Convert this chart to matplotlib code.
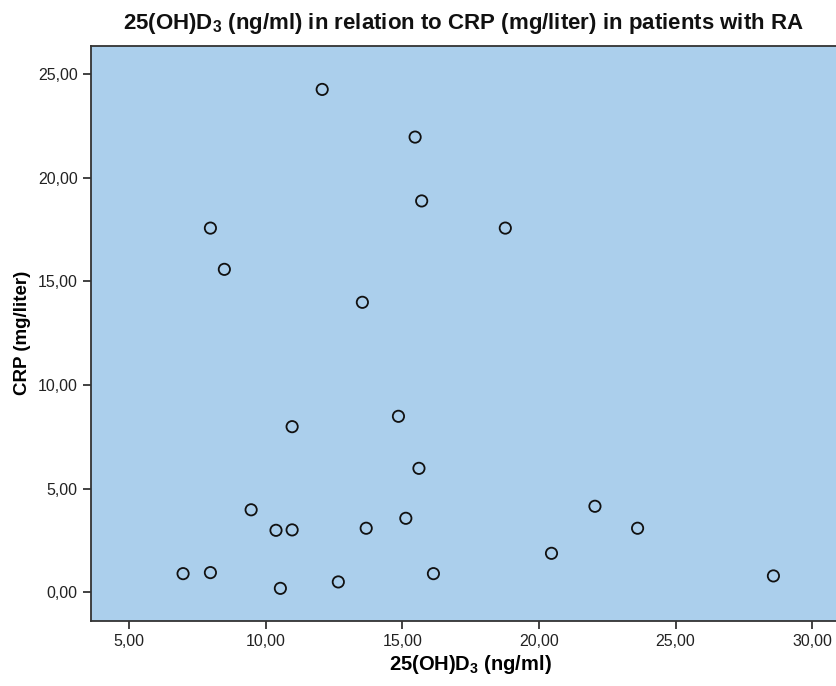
import matplotlib
matplotlib.use("Agg")
import matplotlib.pyplot as plt
from matplotlib.ticker import FuncFormatter

# 25(OH)D3 (ng/ml) vs CRP (mg/liter)
vit_d = [12.07, 15.47, 15.71, 7.98, 18.77, 8.49, 13.54, 10.97, 14.86, 15.61,
         9.47, 10.38, 10.97, 13.68, 15.13, 6.98, 7.98, 10.54, 12.66, 16.14,
         22.05, 23.61, 20.46, 28.58]
crp = [24.26, 21.96, 18.88, 17.57, 17.57, 15.58, 13.99, 7.99, 8.49, 5.98,
       3.98, 2.99, 3.01, 3.09, 3.57, 0.90, 0.95, 0.19, 0.50, 0.90,
       4.15, 3.09, 1.88, 0.79]
x_ticks = [5, 10, 15, 20, 25, 30]
y_ticks = [0, 5, 10, 15, 20, 25]

plt.rcParams['font.family'] = ['Liberation Sans', 'DejaVu Sans']
plt.rcParams['mathtext.fontset'] = 'custom'
plt.rcParams['mathtext.rm'] = 'Liberation Sans'
plt.rcParams['mathtext.bf'] = 'Liberation Sans:bold'

fig = plt.figure(figsize=(8.36, 6.86), dpi=100)
ax = fig.add_axes([0.1085, 0.0952, 0.8915, 0.8382])
ax.set_facecolor('#abcfec')

ax.scatter(vit_d, crp, s=66, facecolors='none', edgecolors='#111111', linewidths=1.3, zorder=3)

ax.set_xlim(3.60, 30.87)
ax.set_ylim(-1.37, 26.37)
ax.set_xticks(x_ticks)
ax.set_yticks(y_ticks)
comma = FuncFormatter(lambda v, p: f"{v:.2f}".replace('.', ','))
ax.xaxis.set_major_formatter(comma)
ax.yaxis.set_major_formatter(comma)
ax.tick_params(direction='out', length=6, width=1.2, labelsize=11.5, colors='#222222')

for side in ['top', 'left', 'bottom']:
    ax.spines[side].set_color('#333333')
    ax.spines[side].set_linewidth(1.3)
ax.spines['right'].set_visible(False)

ax.set_xlabel(r'25(OH)D$_\mathbf{3}$ (ng/ml)', fontsize=14.5, fontweight='bold', labelpad=3, x=0.509)
ax.set_ylabel('CRP (mg/liter)', fontsize=13.5, fontweight='bold', labelpad=5)
fig.text(0.554, 0.966, r'25(OH)D$_\mathbf{3}$ (ng/ml) in relation to CRP (mg/liter) in patients with RA',
         ha='center', va='center', fontsize=16, fontweight='bold', color='#111111')

fig.savefig('out.png', dpi=100)
